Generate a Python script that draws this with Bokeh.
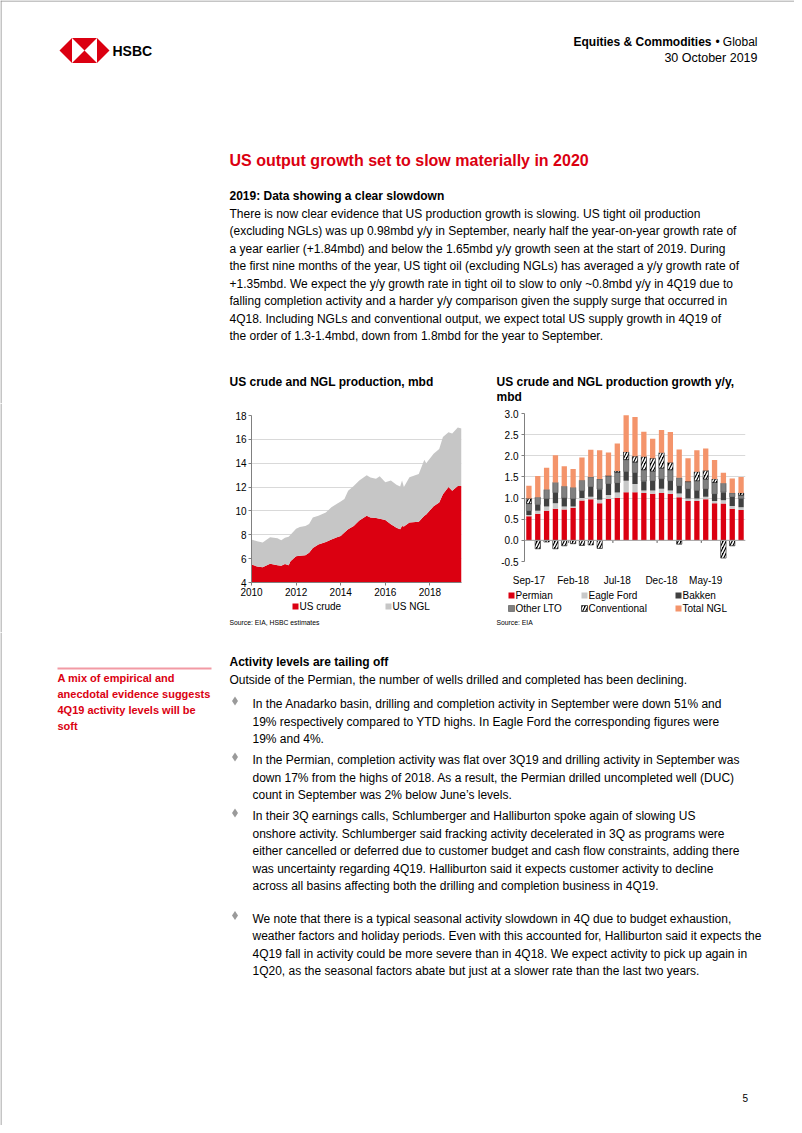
from bokeh.plotting import figure
from bokeh.models import Range1d, FixedTicker, NumeralTickFormatter, Span, ColumnDataSource
from bokeh.layouts import column, row
from bokeh.core.properties import value
from bokeh.embed import file_html
from bokeh.resources import INLINE

# ---------------- data: chart 1 (US crude and NGL production, mbd) ----------------
prod_months = ["2010-01", "2010-04", "2010-07", "2010-11", "2011-03", "2011-05", "2011-07", "2011-09",
               "2011-10", "2012-01", "2012-03", "2012-06", "2012-08", "2012-10", "2013-01", "2013-05",
               "2013-08", "2013-11", "2014-01", "2014-03", "2014-05", "2014-08", "2014-11", "2015-03",
               "2015-05", "2015-08", "2015-10", "2016-01", "2016-04", "2016-07", "2016-09", "2016-10",
               "2016-11", "2017-02", "2017-07", "2017-10", "2017-11", "2018-03", "2018-06", "2018-08",
               "2018-11", "2019-01", "2019-04", "2019-06"]
us_crude = [5.50, 5.35, 5.27, 5.58, 5.44, 5.40, 5.55, 5.44, 5.78, 6.20, 6.25, 6.29, 6.50, 6.90, 7.19,
            7.40, 7.60, 7.80, 7.90, 8.20, 8.46, 8.74, 9.20, 9.59, 9.45, 9.40, 9.35, 9.25, 8.88, 8.60,
            8.46, 8.74, 8.70, 9.02, 9.10, 9.60, 9.70, 10.40, 10.70, 11.40, 12.00, 11.70, 12.10, 12.10]
us_ngl = [2.10, 2.10, 2.08, 2.22, 2.26, 2.15, 2.20, 2.40, 2.22, 2.30, 2.41, 2.45, 2.40, 2.55, 2.41,
          2.47, 2.70, 2.80, 2.90, 2.80, 3.24, 3.36, 3.35, 3.41, 3.35, 3.30, 3.55, 3.15, 3.67, 3.60,
          3.58, 3.81, 3.30, 3.81, 4.00, 4.70, 4.30, 4.40, 4.50, 4.80, 4.60, 4.80, 4.90, 4.80]
prod_labels = ["US crude", "US NGL"]
prod_xticks = [2010, 2012, 2014, 2016, 2018]
prod_yticks = [4, 6, 8, 10, 12, 14, 16, 18]

# ---------------- data: chart 2 (growth y/y, mbd) ----------------
growth_months = ["Sep-17", "Oct-17", "Nov-17", "Dec-17", "Jan-18", "Feb-18", "Mar-18", "Apr-18", "May-18",
                 "Jun-18", "Jul-18", "Aug-18", "Sep-18", "Oct-18", "Nov-18", "Dec-18", "Jan-19", "Feb-19",
                 "Mar-19", "Apr-19", "May-19", "Jun-19", "Jul-19", "Aug-19", "Sep-19"]
permian = [0.57, 0.63, 0.70, 0.75, 0.73, 0.77, 0.94, 0.97, 0.88, 0.98, 1.01, 1.14, 1.14, 1.12, 1.10, 1.12,
           1.10, 1.02, 0.93, 0.93, 0.97, 0.88, 0.87, 0.75, 0.72]
eagle_ford = [0.03, 0.07, 0.10, 0.13, 0.07, 0.03, 0.06, 0.06, 0.08, 0.09, 0.12, 0.27, 0.19, 0.06, 0.08, 0.10,
              0.08, 0.09, 0.06, 0.06, 0.06, 0.05, 0.08, 0.06, 0.06]
bakken = [0.10, 0.15, 0.18, 0.25, 0.20, 0.18, 0.17, 0.24, 0.25, 0.27, 0.23, 0.22, 0.27, 0.22, 0.23, 0.23,
          0.23, 0.18, 0.23, 0.19, 0.19, 0.17, 0.19, 0.22, 0.21]
other_lto = [0.17, 0.17, 0.22, 0.24, 0.28, 0.27, 0.25, 0.23, 0.24, 0.19, 0.25, 0.28, 0.25, 0.27, 0.23, 0.26,
             0.26, 0.19, 0.17, 0.23, 0.23, 0.27, 0.21, 0.09, 0.08]
conventional = [0.12, -0.20, -0.04, -0.20, -0.13, -0.08, -0.12, -0.11, -0.19, 0.00, 0.03, 0.18, 0.14, 0.31,
                0.30, 0.36, 0.17, -0.09, 0.00, 0.21, 0.20, 0.08, -0.42, -0.13, 0.05]
total_ngl = [0.30, 0.50, 0.52, 0.64, 0.47, 0.44, 0.54, 0.64, 0.68, 0.55, 0.65, 0.87, 0.93, 0.59, 0.46, 0.54,
             0.72, 0.67, 0.55, 0.51, 0.52, 0.45, 0.25, 0.34, 0.38]
growth_series = ["Permian", "Eagle Ford", "Bakken", "Other LTO", "Conventional", "Total NGL"]
growth_label_idx = [0, 5, 10, 15, 20]
growth_yticks = [-0.5, 0.0, 0.5, 1.0, 1.5, 2.0, 2.5, 3.0]

# ---------------- styles ----------------
RED = "#db0011"
GREY_NGL = "#c6c6c6"
BORDER = "#8c8c8c"
SANS = "Liberation Sans"
series_style = {
    "Permian": dict(fill_color=RED, line_color=None),
    "Eagle Ford": dict(fill_color="#c8c8c8", line_color=None),
    "Bakken": dict(fill_color="#404040", line_color=None),
    "Other LTO": dict(fill_color="#808080", line_color="#4d4d4d", line_width=0.6),
    "Conventional": dict(fill_color="black", hatch_pattern="/", hatch_color="white",
                         hatch_weight=1.6, hatch_scale=6, line_color="black", line_width=0.5),
    "Total NGL": dict(fill_color="#f4946b", line_color=None),
}


def canvas(w, h, x0, y0):
    p = figure(width=w, height=h, x_range=Range1d(x0, x0 + w), y_range=Range1d(y0 + h, y0),
               x_axis_type=None, y_axis_type=None, output_backend="svg", toolbar_location=None,
               min_border=0, frame_align=False)
    p.grid.visible = False
    p.outline_line_color = None
    p.background_fill_color = "white"
    p.border_fill_color = "white"
    return p


def txt(p, x, ys, lines, size=12, bold=False, color="#000000", font=SANS, align="left"):
    if isinstance(ys, (int, float)):
        ys, lines = [ys], [lines]
    p.text(x=[x] * len(ys), y=ys, text=lines, text_font=value(font),
           text_font_size=value(f"{size}px"), text_font_style="bold" if bold else "normal",
           text_color=color, text_align=align, text_baseline="middle")


# ---------------- top canvas (page y 0..403) ----------------
top = canvas(794, 403, 0, 0)
top.line(x=[0, 794], y=[0.5, 0.5], line_color=BORDER, line_width=1)
top.line(x=[0.5, 0.5], y=[0, 403], line_color=BORDER, line_width=1)
top.patches(xs=[[59, 71.5, 96.5, 109, 96.5, 71.5]], ys=[[50, 37.5, 37.5, 50, 62.5, 62.5]],
            fill_color=RED, line_color=None)
top.patches(xs=[[71.5, 71.5, 84], [96.5, 96.5, 84]], ys=[[37.5, 62.5, 50], [37.5, 62.5, 50]],
            fill_color="white", line_color=None)
txt(top, 112, 50.5, "HSBC", size=14, bold=True)
txt(top, 757, 41, "Global", size=12, align="right")
txt(top, 717, 41, "\u2022", size=12, align="center")
txt(top, 711, 41, "Equities & Commodities", size=12, bold=True, align="right")
txt(top, 757, 57, "30 October 2019", size=12.5, align="right")

txt(top, 229, 160, "US output growth set to slow materially in 2020", size=16, bold=True, color=RED)
txt(top, 229, 195, "2019: Data showing a clear slowdown", size=12, bold=True)
para = [
    "There is now clear evidence that US production growth is slowing. US tight oil production",
    "(excluding NGLs) was up 0.98mbd y/y in September, nearly half the year-on-year growth rate of",
    "a year earlier (+1.84mbd) and below the 1.65mbd y/y growth seen at the start of 2019. During",
    "the first nine months of the year, US tight oil (excluding NGLs) has averaged a y/y growth rate of",
    "+1.35mbd. We expect the y/y growth rate in tight oil to slow to only ~0.8mbd y/y in 4Q19 due to",
    "falling completion activity and a harder y/y comparison given the supply surge that occurred in",
    "4Q18. Including NGLs and conventional output, we expect total US supply growth in 4Q19 of",
    "the order of 1.3-1.4mbd, down from 1.8mbd for the year to September.",
]
txt(top, 229, [213 + 17.5 * i for i in range(len(para))], para, size=12)
txt(top, 229, 381, "US crude and NGL production, mbd", size=12, bold=True)
txt(top, 496, [381, 396], ["US crude and NGL production growth y/y,", "mbd"], size=12, bold=True)

# ---------------- left filler (page x 0..222, y 403..632) ----------------
left = canvas(222, 229, 0, 403)
left.line(x=[0.5, 0.5], y=[403, 632], line_color=BORDER, line_width=1)

# ---------------- chart 1 ----------------
prod_x = [int(m[:4]) + (int(m[5:]) - 1) / 12 for m in prod_months]
src1 = ColumnDataSource(dict(x=prod_x, crude=us_crude, ngl=us_ngl))
p1 = figure(width=266, height=197, x_range=Range1d(2010, prod_x[-1]), y_range=Range1d(4, 18),
            output_backend="svg", toolbar_location=None, frame_align=False,
            min_border_left=29, min_border_right=27, min_border_top=12, min_border_bottom=18)
p1.varea_stack(["crude", "ngl"], x="x", source=src1, color=[RED, GREY_NGL])
p1.xaxis.ticker = FixedTicker(ticks=prod_xticks)
p1.yaxis.ticker = FixedTicker(ticks=prod_yticks)
p1.xgrid.visible = False
p1.ygrid.grid_line_color = "#d9d9d9"
p1.outline_line_color = None
for ax in (p1.xaxis[0], p1.yaxis[0]):
    ax.axis_line_color = "#808080"
    ax.major_tick_line_color = "#808080"
    ax.major_tick_in = 0
    ax.major_tick_out = 3
    ax.minor_tick_line_color = None
    ax.major_label_text_font = SANS
    ax.major_label_text_font_size = "10px"
    ax.major_label_text_color = "#000000"
    ax.major_label_standoff = 2

leg1 = canvas(266, 32, 222, 600)
leg1_x = [292, 385]
leg1.rect(x=[x + 3 for x in leg1_x], y=[606, 606], width=6, height=6, fill_color=[RED, GREY_NGL],
          line_color=None)
for x, lab in zip(leg1_x, prod_labels):
    txt(leg1, x + 7, 606, lab, size=10)
txt(leg1, 229, 622, "Source: EIA, HSBC estimates", size=6.8)

# ---------------- chart 2 ----------------
n = len(growth_months)
idx = list(range(n))
pos = [0.0] * n
neg = [0.0] * n
p2 = figure(width=306, height=185, x_range=Range1d(-0.5, n - 0.5), y_range=Range1d(-0.5, 3.0),
            output_backend="svg", toolbar_location=None, frame_align=False,
            min_border_left=36, min_border_right=49, min_border_top=10, min_border_bottom=21)
p2.add_layout(Span(location=0, dimension="width", line_color="#a6a6a6", line_width=1))
for name, vals in zip(growth_series, [permian, eagle_ford, bakken, other_lto, conventional, total_ngl]):
    bottoms, tops = [], []
    for i, v in enumerate(vals):
        if v >= 0:
            bottoms.append(pos[i]); tops.append(pos[i] + v); pos[i] += v
        else:
            bottoms.append(neg[i]); tops.append(neg[i] + v); neg[i] += v
    p2.vbar(x=idx, bottom=bottoms, top=tops, width=0.6, **series_style[name])
bounds = [i - 0.5 for i in growth_label_idx[1:]]
p2.segment(x0=bounds, x1=bounds, y0=[0] * len(bounds), y1=[-0.06] * len(bounds),
           line_color="#595959", line_width=1)
p2.xaxis.ticker = FixedTicker(ticks=growth_label_idx)
p2.xaxis.major_label_overrides = {i: growth_months[i] for i in growth_label_idx}
p2.xaxis.axis_line_color = None
p2.xaxis.major_tick_line_color = None
p2.xaxis.major_label_standoff = 7
p2.yaxis.ticker = FixedTicker(ticks=growth_yticks)
p2.yaxis.formatter = NumeralTickFormatter(format="0.0")
p2.yaxis.axis_line_color = "#808080"
p2.yaxis.major_tick_line_color = "#808080"
p2.yaxis.major_tick_in = 0
p2.yaxis.major_tick_out = 3
p2.yaxis.major_label_standoff = 3
for ax in (p2.xaxis[0], p2.yaxis[0]):
    ax.minor_tick_line_color = None
    ax.major_label_text_font = SANS
    ax.major_label_text_font_size = "10px"
    ax.major_label_text_color = "#000000"
p2.xgrid.visible = False
p2.ygrid.grid_line_color = "#d9d9d9"
p2.outline_line_color = None

leg2 = canvas(306, 44, 488, 588)
leg2_x = [508, 581, 675]
leg2_y = [595, 608]
for k, name in enumerate(growth_series):
    lx, ly = leg2_x[k % 3], leg2_y[k // 3]
    leg2.rect(x=[lx + 3], y=[ly], width=6, height=6, **series_style[name])
    txt(leg2, lx + 7, ly, name, size=10)
txt(leg2, 496, 622, "Source: EIA", size=6.8)

# ---------------- bottom canvas (page y 632..1125) ----------------
bot = canvas(794, 493, 0, 632)
bot.line(x=[0.5, 0.5], y=[632, 1125], line_color=BORDER, line_width=1)
bot.line(x=[57, 211], y=[668, 668], line_color="#f29aa4", line_width=2)
txt(bot, 57, [677 + 16 * i for i in range(4)],
    ["A mix of empirical and", "anecdotal evidence suggests", "4Q19 activity levels will be", "soft"],
    size=11, bold=True, color=RED)
txt(bot, 229, 661, "Activity levels are tailing off", size=12, bold=True)
txt(bot, 229, 679, "Outside of the Permian, the number of wells drilled and completed has been declining.", size=12)
bullets = [
    (703.5, ["In the Anadarko basin, drilling and completion activity in September were down 51% and",
             "19% respectively compared to YTD highs. In Eagle Ford the corresponding figures were",
             "19% and 4%."]),
    (759.5, ["In the Permian, completion activity was flat over 3Q19 and drilling activity in September was",
             "down 17% from the highs of 2018. As a result, the Permian drilled uncompleted well (DUC)",
             "count in September was 2% below June\u2019s levels."]),
    (815.5, ["In their 3Q earnings calls, Schlumberger and Halliburton spoke again of slowing US",
             "onshore activity. Schlumberger said fracking activity decelerated in 3Q as programs were",
             "either cancelled or deferred due to customer budget and cash flow constraints, adding there",
             "was uncertainty regarding 4Q19. Halliburton said it expects customer activity to decline",
             "across all basins affecting both the drilling and completion business in 4Q19."]),
    (918, ["We note that there is a typical seasonal activity slowdown in 4Q due to budget exhaustion,",
           "weather factors and holiday periods. Even with this accounted for, Halliburton said it expects the",
           "4Q19 fall in activity could be more severe than in 4Q18. We expect activity to pick up again in",
           "1Q20, as the seasonal factors abate but just at a slower rate than the last two years."]),
]
bot.scatter(x=[234.5] * len(bullets), y=[b[0] - 3 for b in bullets], marker="diamond", size=9,
            fill_color="#9a9a9a", line_color=None)
for y0, lines in bullets:
    txt(bot, 252, [y0 + 17.5 * i for i in range(len(lines))], lines, size=12)
txt(bot, 742, 1097, "5", size=10)

mid = row(left, column(p1, leg1), column(p2, leg2))
page = column(top, mid, bot)

open("out.html", "w").write(file_html(page, INLINE))
